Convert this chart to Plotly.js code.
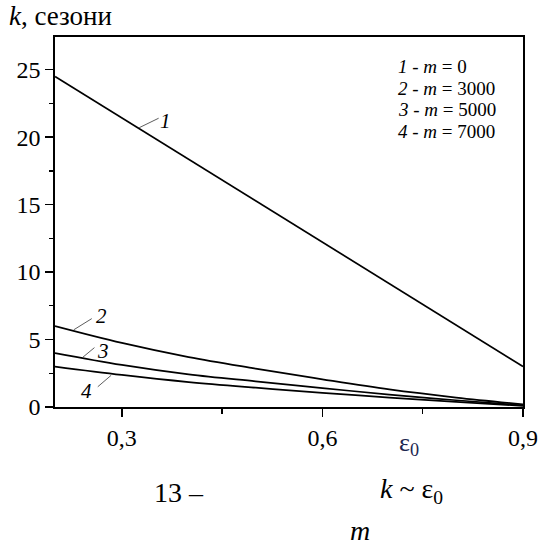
<!DOCTYPE html>
<html>
<head>
<meta charset="utf-8">
<script src="https://cdn.plot.ly/plotly-3.0.1.min.js"></script>
<style>
  html, body { margin: 0; padding: 0; background: #fff; }
  #chart { width: 543px; height: 550px; }
</style>
</head>
<body>
<div id="chart"></div>
<script>
// Relative deformation and number of seasons k for each m
const eps = [0.2, 0.3, 0.4, 0.5, 0.6, 0.7, 0.8, 0.9];
const k_m0 = [24.5, 21.43, 18.36, 15.29, 12.21, 9.14, 6.07, 3.0];
const k_m3000 = [6.0, 4.75, 3.7, 2.85, 2.05, 1.3, 0.7, 0.2];
const k_m5000 = [4.0, 3.12, 2.42, 1.9, 1.4, 0.92, 0.5, 0.12];
const k_m7000 = [3.0, 2.38, 1.85, 1.43, 1.05, 0.7, 0.38, 0.08];

const legendLines = [
  '<i>1</i> - <i>m</i> = 0',
  '<i>2</i> - <i>m</i> = 3000',
  '<i>3</i> - <i>m</i> = 5000',
  '<i>4</i> - <i>m</i> = 7000'
];

// curve numbers placed beside their lines, with thin leader strokes
const curveNames = ['1', '2', '3', '4'];
const nameX = [0.366, 0.269, 0.272, 0.247];
const nameY = [21.2, 6.75, 4.15, 1.2];
const leadX0 = [0.326, 0.228, 0.240, 0.264];
const leadY0 = [20.7, 5.72, 3.62, 1.5];
const leadX1 = [0.355, 0.255, 0.259, 0.284];
const leadY1 = [21.4, 6.55, 4.4, 2.35];

const series = [k_m0, k_m3000, k_m5000, k_m7000];

const traces = series.map((ys, i) => ({
  x: eps, y: ys, mode: 'lines',
  line: { color: '#000', width: 1.7, shape: i === 0 ? 'linear' : 'spline', smoothing: 1 }
}));

const annotations = [];
curveNames.forEach((t, i) => annotations.push({
  x: nameX[i], y: nameY[i], text: '<i>' + t + '</i>',
  showarrow: false, font: { family: 'Liberation Serif', size: 21, color: '#000' }
}));
legendLines.forEach((t, i) => annotations.push({
  x: 0.729, y: (407.5 - (65 + 21.6 * i)) / 370.5, xref: 'paper', yref: 'paper',
  xanchor: 'left', yshift: 11, text: t, showarrow: false,
  font: { family: 'Liberation Serif', size: 19, color: '#000' }
}));
annotations.push(
  { x: -0.103, y: 1.056, xref: 'paper', yref: 'paper', xanchor: 'left', yshift: 17,
    text: '<i>k</i>, сезони', showarrow: false, font: { family: 'Liberation Serif', size: 27, color: '#000' } },
  { x: 0.782, y: -0.107, xref: 'paper', yref: 'paper', yshift: -15,
    text: 'ε<sub>0</sub>', showarrow: false, font: { family: 'Liberation Serif', size: 26, color: '#1c2650' } },
  { x: 0.208, y: -0.227, xref: 'paper', yref: 'paper', xanchor: 'left', yshift: -19,
    text: '13 –', showarrow: false, font: { family: 'Liberation Serif', size: 28, color: '#000' } },
  { x: 0.69, y: -0.227, xref: 'paper', yref: 'paper', xanchor: 'left', yshift: -19,
    text: '<i>k</i> ~ ε<sub>0</sub>', showarrow: false, font: { family: 'Liberation Serif', size: 28, color: '#000' } },
  { x: 0.677, y: -0.334, xref: 'paper', yref: 'paper', yshift: -17,
    text: '<i>m</i>', showarrow: false, font: { family: 'Liberation Serif', size: 28, color: '#000' } }
);

const shapes = leadX0.map((x0, i) => ({
  type: 'line', x0: x0, y0: leadY0[i], x1: leadX1[i], y1: leadY1[i],
  line: { color: '#333', width: 0.8 }
}));

const layout = {
  width: 543, height: 550,
  margin: { l: 55, r: 20, t: 37, b: 143 },
  separators: ',.',
  showlegend: false,
  xaxis: {
    range: [0.2, 0.9], tick0: 0.3, dtick: 0.3,
    showgrid: false, zeroline: false, showline: true, linecolor: '#000', linewidth: 1.7,
    mirror: true, ticks: 'outside', ticklen: 8, tickwidth: 1.5, tickcolor: '#000',
    minor: { dtick: 0.15, ticks: 'outside', ticklen: 5, tickcolor: '#000', tickwidth: 1.3 },
    tickfont: { family: 'Liberation Serif', size: 24, color: '#000' }
  },
  yaxis: {
    range: [0, 27.42], tick0: 0, dtick: 5,
    showgrid: false, zeroline: false, showline: true, linecolor: '#000', linewidth: 1.7,
    mirror: true, ticks: 'outside', ticklen: 8, tickwidth: 1.5, tickcolor: '#000',
    minor: { dtick: 2.5, ticks: 'outside', ticklen: 4, tickcolor: '#000', tickwidth: 1.3 },
    tickfont: { family: 'Liberation Serif', size: 24, color: '#000' }
  },
  annotations: annotations,
  shapes: shapes
};

Plotly.newPlot('chart', traces, layout, { staticPlot: true });
</script>
</body>
</html>
